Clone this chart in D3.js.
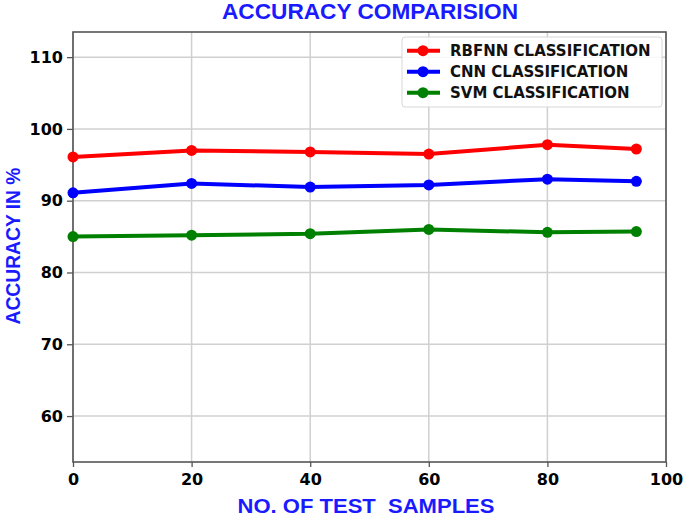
<!DOCTYPE html>
<html>
<head>
<meta charset="utf-8">
<style>
	body { margin: 0; background: white; }
	text { font-family: "DejaVu Sans", sans-serif; }
	.tick text { font-weight: bold; font-size: 16px; fill: black; }
	.title, .axis-label { font-family: "Liberation Sans", Arial, sans-serif; font-weight: bold; fill: #1a1aff; }
	.legend-txt { font-weight: bold; font-size: 15px; fill: #111; }
</style>
</head>
<body>
<svg id="chart"></svg>
<script src="https://d3js.org/d3.v7.min.js"></script>
<script>
	var samples = [0, 20, 40, 60, 80, 95];
	var rbfnn = [96.1, 97.0, 96.8, 96.5, 97.8, 97.2];
	var cnn = [91.1, 92.4, 91.9, 92.2, 93.0, 92.7];
	var svm = [85.0, 85.2, 85.4, 86.0, 85.6, 85.7];
	var seriesNames = ["RBFNN CLASSIFICATION", "CNN CLASSIFICATION", "SVM CLASSIFICATION"];
	var seriesColors = ["#ff0000", "#0000ff", "#008000"];
	var xTicks = [0, 20, 40, 60, 80, 100];
	var yTicks = [60, 70, 80, 90, 100, 110];

	var W = 685, H = 517;
	var margin = {top: 32, right: 19, bottom: 55, left: 73};
	var width = W - margin.left - margin.right,
		height = H - margin.top - margin.bottom;

	var svg = d3.select("#chart").attr("width", W).attr("height", H);
	var chart = svg.append("g").attr("transform", `translate(${margin.left},${margin.top})`);

	var x = d3.scaleLinear().domain([0, 100]).range([0, width]);
	var y = d3.scaleLinear().domain([53.6, 113.5]).range([height, 0]);

	// grid
	chart.selectAll(".vgrid").data(xTicks).enter().append("line")
		.attr("x1", d => x(d)).attr("x2", d => x(d))
		.attr("y1", 0).attr("y2", height)
		.attr("stroke", "#d0d0d0").attr("stroke-width", 1.5);
	chart.selectAll(".hgrid").data(yTicks).enter().append("line")
		.attr("y1", d => y(d)).attr("y2", d => y(d))
		.attr("x1", 0).attr("x2", width)
		.attr("stroke", "#d0d0d0").attr("stroke-width", 1.5);

	// axes
	var xa = chart.append("g").attr("transform", `translate(0,${height})`)
		.call(d3.axisBottom(x).tickValues(xTicks).tickSize(5).tickPadding(7));
	var ya = chart.append("g")
		.call(d3.axisLeft(y).tickValues(yTicks).tickSize(6).tickPadding(4));
	[xa, ya].forEach(function(a) {
		a.select(".domain").remove();
		a.selectAll(".tick line").attr("stroke", "#555").attr("stroke-width", 1.3);
	});

	// frame
	chart.append("rect").attr("width", width).attr("height", height)
		.attr("fill", "none").attr("stroke", "#555").attr("stroke-width", 1.6);

	var line = d3.line().x((d, i) => x(samples[i])).y(d => y(d));
	var allSeries = [rbfnn, cnn, svm];

	allSeries.forEach(function(vals, k) {
		chart.append("path").datum(vals)
			.attr("d", line)
			.attr("fill", "none")
			.attr("stroke", seriesColors[k])
			.attr("stroke-width", 4);
		chart.selectAll(".pt" + k).data(vals).enter().append("circle")
			.attr("cx", (d, i) => x(samples[i]))
			.attr("cy", d => y(d))
			.attr("r", 5.5)
			.attr("fill", seriesColors[k]);
	});

	// legend
	var lg = chart.append("g").attr("transform", `translate(${402 - margin.left},${37 - margin.top})`);
	lg.append("rect").attr("width", 260).attr("height", 70).attr("rx", 3)
		.attr("fill", "white").attr("fill-opacity", 0.85)
		.attr("stroke", "#d8d8d8");
	seriesNames.forEach(function(name, k) {
		var ly = 13.7 + k * 21;
		lg.append("line").attr("x1", 5).attr("x2", 38).attr("y1", ly).attr("y2", ly)
			.attr("stroke", seriesColors[k]).attr("stroke-width", 4);
		lg.append("circle").attr("cx", 21).attr("cy", ly).attr("r", 5.5).attr("fill", seriesColors[k]);
		lg.append("text").attr("class", "legend-txt")
			.attr("x", 48).attr("y", ly).attr("dy", "0.36em").text(name);
	});

	// titles
	svg.append("text").attr("class", "title")
		.attr("x", 370).attr("y", 18.5).attr("text-anchor", "middle")
		.attr("textLength", 296).attr("lengthAdjust", "spacingAndGlyphs")
		.style("font-size", "22px").text("ACCURACY COMPARISION");
	svg.append("text").attr("class", "axis-label")
		.attr("x", 366).attr("y", 513).attr("text-anchor", "middle")
		.attr("textLength", 257).attr("lengthAdjust", "spacingAndGlyphs")
		.style("font-size", "20px").style("white-space", "pre")
		.text("NO. OF TEST  SAMPLES");
	svg.append("text").attr("class", "axis-label")
		.attr("transform", `translate(20,${246}) rotate(-90)`)
		.attr("text-anchor", "middle")
		.attr("textLength", 157).attr("lengthAdjust", "spacingAndGlyphs")
		.style("font-size", "20px").text("ACCURACY IN %");
</script>
</body>
</html>
